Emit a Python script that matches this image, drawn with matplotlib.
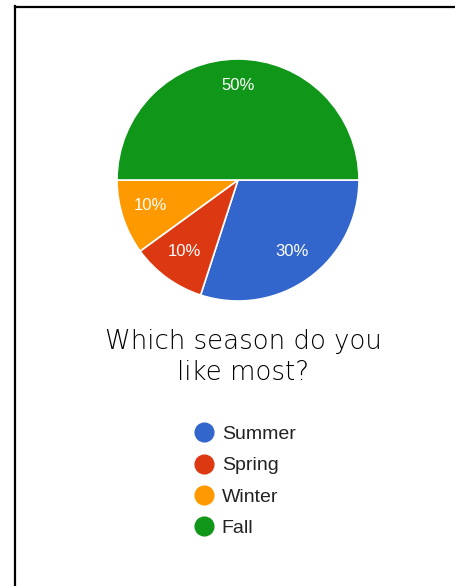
import matplotlib
matplotlib.use("Agg")
import matplotlib.pyplot as plt
import matplotlib.transforms as mtransforms
from matplotlib.lines import Line2D

# Survey data
seasons = ["Summer", "Spring", "Winter", "Fall"]
shares = [30, 10, 10, 50]
colors = ["#3366cc", "#dc3912", "#ff9900", "#109618"]
title = "Which season do you\nlike most?"

plt.rcParams['font.family'] = ['Liberation Sans', 'DejaVu Sans']

W, H = 456, 586
fig = plt.figure(figsize=(W / 100, H / 100), dpi=100)

# pie area: centre (238, 180), radius ~121 px
cx, cy, r = 238, 180, 121
ax = fig.add_axes([(cx - r) / W, 1 - (cy + r) / H, 2 * r / W, 2 * r / H])
wedges, texts, autotexts = ax.pie(
    shares, colors=colors, startangle=0, counterclock=False,
    autopct='%1.0f%%', pctdistance=0.76,
    wedgeprops=dict(edgecolor='white', linewidth=1.2),
    textprops=dict(color='white', fontsize=12))
# nudge the percentage labels up a little
lift = mtransforms.offset_copy(ax.transData, fig=fig, x=0, y=3, units='dots')
for t in autotexts:
    t.set_transform(lift)
ax.set_xlim(-1, 1)
ax.set_ylim(-1, 1)
ax.set_aspect('equal')
ax.axis('off')

fig.text(243 / W, 1 - 357 / H, title, ha='center', va='center',
         fontsize=18.7, color='#000000', linespacing=1.32,
         family=['DejaVu Sans'], fontweight='light')

handles = [Line2D([0], [0], marker='o', linestyle='', markersize=13.5,
                  markerfacecolor=c, markeredgecolor=c) for c in colors]
fig.legend(handles, seasons, loc='upper left',
           bbox_to_anchor=(177 / W, 1 - 408 / H), frameon=False,
           fontsize=14, labelspacing=0.7, handletextpad=0.4,
           handlelength=1.0, labelcolor='#222222')

# frame lines on top and left
fig.add_artist(Line2D([15 / W, 1], [1 - 6.5 / H, 1 - 6.5 / H], color='black', linewidth=1.6))
fig.add_artist(Line2D([15.5 / W, 15.5 / W], [0, 1 - 6 / H], color='black', linewidth=1.6))

fig.savefig("out.png", dpi=100)
